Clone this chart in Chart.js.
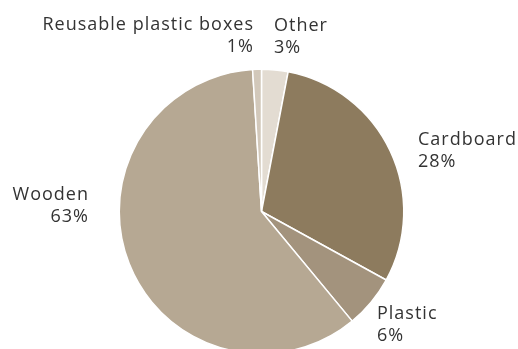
<!DOCTYPE html>
<html>
<head>
<meta charset="utf-8">
<script src="https://cdn.jsdelivr.net/npm/chart.js@4"></script>
<style>
  html, body { margin: 0; padding: 0; overflow: hidden; background: #fff; }
  #wrap { width: 518px; height: 360px; }
</style>
</head>
<body>
<div id="wrap"><canvas id="c" width="518" height="360"></canvas></div>
<script>
const categories = ["Other", "Cardboard", "Plastic", "Wooden", "Reusable plastic boxes"];
const values = [3, 30, 6, 60, 1];
// Percentage labels as printed in the picture
const pctLabels = ["3%", "28%", "6%", "63%", "1%"];

const colors = ["#e3dcd2", "#8d7b5e", "#a3937d", "#b6a893", "#d2c8ba"];

// label placement: offset (px) of first-line baseline from pie centre, and alignment
const labelLayout = [
  { dx: 12.5, dy: -181, align: "left" },
  { dx: 156.5, dy: -66.5, align: "left" },
  { dx: 115.5, dy: 107.5, align: "left" },
  { dx: -173.5, dy: -11.5, align: "right" },
  { dx: -8.5, dy: -181.5, align: "right" }
];

const labelPlugin = {
  id: "sliceLabels",
  afterDatasetsDraw(chart) {
    const ctx = chart.ctx;
    const meta = chart.getDatasetMeta(0);
    ctx.save();
    ctx.font = "18px 'Open Sans'";
    if ("letterSpacing" in ctx) ctx.letterSpacing = "1px";
    ctx.fillStyle = "#333333";
    ctx.textBaseline = "alphabetic";
    meta.data.forEach((arc, i) => {
      const L = labelLayout[i];
      const x = arc.x + L.dx;
      const y = arc.y + L.dy;
      ctx.textAlign = L.align;
      // right-aligned text: compensate trailing letter spacing
      const xx = L.align === "right" ? x + 1 : x;
      ctx.fillText(chart.data.labels[i], xx, y);
      ctx.fillText(pctLabels[i], xx, y + 22);
    });
    ctx.restore();
  }
};

new Chart(document.getElementById("c"), {
  type: "pie",
  data: {
    labels: categories,
    datasets: [{
      data: values,
      backgroundColor: colors,
      borderColor: "#ffffff",
      borderWidth: 1.5
    }]
  },
  options: {
    responsive: false,
    animation: false,
    layout: { padding: { left: 118.5, right: 113.5, top: 68.5, bottom: 5.5 } },
    plugins: {
      legend: { display: false },
      tooltip: { enabled: false }
    }
  },
  plugins: [labelPlugin]
});
</script>
</body>
</html>
